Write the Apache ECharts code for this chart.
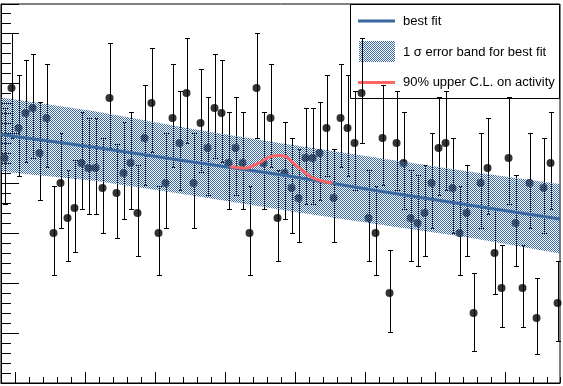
<!DOCTYPE html>
<html><head><meta charset="utf-8">
<script src="https://cdn.jsdelivr.net/npm/echarts@6/dist/echarts.min.js"></script>
<style>html,body{margin:0;padding:0;background:#fff}#c{width:563px;height:386px}</style>
</head><body><div id="c"></div>
<script>
// ---- data ----
const xCenters = [0.5,1.5,2.5,3.5,4.5,5.5,6.5,7.5,8.5,9.5,10.5,11.5,12.5,13.5,14.5,15.5,16.5,17.5,18.5,19.5,
  20.5,21.5,22.5,23.5,24.5,25.5,26.5,27.5,28.5,29.5,30.5,31.5,32.5,33.5,34.5,35.5,36.5,37.5,38.5,39.5,
  40.5,41.5,42.5,43.5,44.5,45.5,46.5,47.5,48.5,49.5,50.5,51.5,52.5,53.5,54.5,55.5,56.5,57.5,58.5,59.5,
  60.5,61.5,62.5,63.5,64.5,65.5,66.5,67.5,68.5,69.5,70.5,71.5,72.5,73.5,74.5,75.5,76.5,77.5,78.5,79.5];
const counts = [45,59,51,54,55,46,53,30,40,33,35,44,43,43,39,57,38,42,44,34,
  49,56,30,40,53,48,58,40,52,47,55,54,44,47,44,30,59,44,53,33,
  42,39,37,45,45,46,51,37,53,51,48,58,33,30,49,18,48,44,33,32,
  34,40,47,48,39,30,34,14,40,43,26,19,45,32,19,40,13,39,44,16];
const errHigh = [10.1,11.0,10.6,10.7,10.8,10.3,10.8,9.4,10.0,9.6,9.6,10.2,10.1,10.1,10.0,11.0,9.8,10.3,10.2,9.6,
  10.6,11.0,9.4,10.0,10.8,10.4,11.0,10.0,10.8,10.3,10.8,10.7,10.2,10.3,10.2,9.4,11.0,10.2,10.8,9.6,
  10.3,10.0,9.8,10.1,10.1,10.3,10.6,9.8,10.8,10.6,10.4,11.0,9.6,9.4,10.6,8.6,10.4,10.2,9.6,9.6,
  9.6,10.0,10.3,10.4,10.0,9.4,9.6,8.1,10.0,10.1,9.1,8.6,12.2,9.6,8.6,10.0,8.1,10.0,10.2,8.5];
const errLow = [9.1,10.0,9.6,9.7,9.9,9.4,9.7,8.4,9.0,8.5,8.7,9.2,9.2,9.2,9.0,9.9,8.9,9.2,9.2,8.6,
  9.4,9.7,8.4,9.0,9.7,9.4,9.9,9.0,9.7,9.4,9.9,9.7,9.2,9.4,9.2,8.4,10.0,9.2,9.7,8.5,
  9.2,9.0,8.8,9.1,9.1,9.4,9.6,8.8,9.7,9.6,9.4,9.9,8.5,8.4,9.4,7.8,9.4,9.2,8.5,8.5,
  8.6,9.0,9.4,9.4,9.0,8.4,8.6,7.5,9.0,9.2,8.2,7.7,9.1,8.5,7.7,9.0,7.2,9.0,9.2,7.5];
const fitX = [0, 13.6, 26.9, 40.2, 53.5, 66.8, 79.85];
const fitY = [49.7, 47.1, 44.3, 41.6, 38.5, 35.6, 32.8];
const bandUpper = [57.1, 54.3, 50.9, 47.9, 45.1, 42.3, 39.8];
const bandLower = [42.3, 40.4, 37.6, 34.6, 31.8, 29.1, 25.9];
const limitX = [32.76,33.76,34.9,35.9,37.05,37.9,38.8,39.6,40.5,41.3,42.35,43.35,44.2,45.6,47.35];
const limitY = [43.26,43.1,42.94,43.4,44.14,44.9,45.4,45.5,45.4,44.6,43.26,42.2,41.26,40.5,40.0];
const xMajorTicks = [2,12,22,32,42,52,62,72];
const legendLabels = ['best fit', '1 \u03c3 error band for best fit', '90% upper C.L. on activity'];

// ---- styles ----
const BLUE = '#39689f';
const RED = '#ff6464';
const pc = document.createElement('canvas');
pc.width = 2; pc.height = 2;
const g2 = pc.getContext('2d');
g2.fillStyle = '#3a6aa8';
g2.fillRect(0, 0, 1, 1); g2.fillRect(1, 1, 1, 1);
const bandFill = { image: pc, repeat: 'repeat' };

const chart = echarts.init(document.getElementById('c'), null, { renderer: 'canvas' });

const pts = xCenters.map((x, i) => [x, counts[i], errLow[i], errHigh[i]]);
const fitData = fitX.map((x, i) => [x, fitY[i]]);
const limitData = limitX.map((x, i) => [x, limitY[i]]);

const axisCommon = { min: 0, max: 79.85, axisLabel: { show: false }, splitLine: { show: false } };

const option = {
  animation: false,
  grid: { left: 1, top: 4, width: 559, height: 379, show: true, borderColor: '#000', borderWidth: 1, backgroundColor: 'transparent' },
  xAxis: [
    Object.assign({ type: 'value', position: 'bottom', interval: 2,
      axisLine: { show: true, lineStyle: { color: '#000', width: 1 } },
      axisTick: { show: true, inside: true, length: 6, lineStyle: { color: '#000', width: 1 } } }, axisCommon),
    Object.assign({ type: 'value', position: 'bottom',
      axisLine: { show: false },
      axisTick: { show: true, inside: true, length: 11, customValues: xMajorTicks, lineStyle: { color: '#000', width: 1 } } }, axisCommon)
  ],
  yAxis: [
    { type: 'value', position: 'left', min: 0, max: 75.8, interval: 2,
      axisLine: { show: true, lineStyle: { color: '#000', width: 1 } },
      axisTick: { show: true, inside: true, length: 10, lineStyle: { color: '#000', width: 1 } },
      axisLabel: { show: false }, splitLine: { show: false } },
    { type: 'value', position: 'left', min: 0, max: 75.8, interval: 10,
      axisLine: { show: false },
      axisTick: { show: true, inside: true, length: 18, lineStyle: { color: '#000', width: 1 } },
      axisLabel: { show: false }, splitLine: { show: false } }
  ],
  series: [
    { type: 'custom', z: 1, xAxisIndex: 0, yAxisIndex: 0, data: pts,
      renderItem: function (params, api) {
        const x = api.value(0), y = api.value(1), lo = api.value(2), hi = api.value(3);
        const pT = api.coord([x, y + hi]);
        const pB = api.coord([x, y - lo]);
        const cx = Math.round(pT[0]) + 0.5;
        const yt = Math.round(pT[1]) + 0.5, yb = Math.round(pB[1]) + 0.5;
        const st = { stroke: '#000', lineWidth: 1 };
        return { type: 'group', children: [
          { type: 'line', shape: { x1: cx, y1: yt, x2: cx, y2: yb }, style: st },
          { type: 'line', shape: { x1: cx - 2.5, y1: yt, x2: cx + 2.5, y2: yt }, style: st },
          { type: 'line', shape: { x1: cx - 2.5, y1: yb, x2: cx + 2.5, y2: yb }, style: st }
        ] };
      } },
    { type: 'scatter', z: 2, xAxisIndex: 0, yAxisIndex: 0, symbol: 'circle', symbolSize: 8,
      itemStyle: { color: '#000' }, data: pts.map(p => [p[0], p[1]]) },
    { type: 'custom', z: 3, xAxisIndex: 0, yAxisIndex: 0, data: [[0, 0]],
      renderItem: function (params, api) {
        const poly = [];
        for (let i = 0; i < fitX.length; i++) poly.push(api.coord([fitX[i], bandUpper[i]]));
        for (let i = fitX.length - 1; i >= 0; i--) poly.push(api.coord([fitX[i], bandLower[i]]));
        return { type: 'polygon', shape: { points: poly }, style: { fill: bandFill, stroke: null } };
      } },
    { type: 'line', z: 4, xAxisIndex: 0, yAxisIndex: 0, data: fitData, showSymbol: false,
      lineStyle: { color: BLUE, width: 3 } },
    { type: 'line', z: 5, xAxisIndex: 0, yAxisIndex: 0, data: limitData, showSymbol: false, smooth: 0.4,
      lineStyle: { color: RED, width: 3 } }
  ],
  graphic: [
    { type: 'group', z: 100, children: [
      { type: 'rect', shape: { x: 350.5, y: 4.5, width: 209, height: 94 }, style: { fill: '#fff', stroke: '#000', lineWidth: 1 } },
      { type: 'line', shape: { x1: 358, y1: 21, x2: 395, y2: 21 }, style: { stroke: BLUE, lineWidth: 3 } },
      { type: 'rect', shape: { x: 359, y: 41, width: 36, height: 21 }, style: { fill: bandFill } },
      { type: 'line', shape: { x1: 358, y1: 82.5, x2: 395, y2: 82.5 }, style: { stroke: RED, lineWidth: 3 } },
      { type: 'text', style: { text: legendLabels[0], x: 403, y: 21, fill: '#000', font: '13px "Liberation Sans", Arial, sans-serif', verticalAlign: 'middle' } },
      { type: 'text', style: { text: legendLabels[1], x: 403, y: 52, fill: '#000', font: '13px "Liberation Sans", Arial, sans-serif', verticalAlign: 'middle' } },
      { type: 'text', style: { text: legendLabels[2], x: 403, y: 82.5, fill: '#000', font: '13px "Liberation Sans", Arial, sans-serif', verticalAlign: 'middle' } }
    ] }
  ]
};
chart.setOption(option);
</script>
</body></html>
